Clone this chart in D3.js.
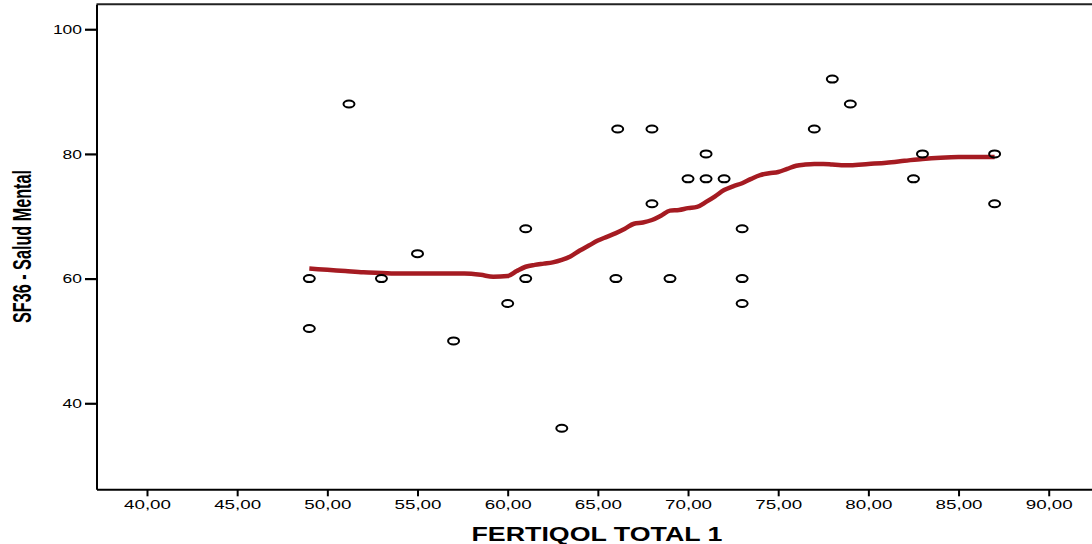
<!DOCTYPE html>
<html>
<head>
<meta charset="utf-8">
<script src="https://cdn.jsdelivr.net/npm/d3@7"></script>
<style>
  html, body { margin: 0; padding: 0; background: #fff; }
  svg { display: block; }
  text { font-family: "Liberation Sans", Arial, sans-serif; fill: #000; }
</style>
</head>
<body>
<svg id="chart" width="1092" height="544"></svg>
<script>
// FERTIQOL total score vs SF36 mental health score
const fertiqol = [49, 49, 51.2, 53, 55, 57, 60, 61, 61, 63, 66.1, 66, 68, 68, 69, 70, 71, 71, 72,
                  73, 73, 73, 77, 78, 79, 82.5, 83, 87, 87];
const saludMental = [60, 52, 88, 60, 64, 50, 56, 68, 60, 36, 84, 60, 84, 72, 60, 76, 80, 76, 76,
                     68, 60, 56, 84, 92, 88, 76, 80, 80, 72];

// Loess fit line
const fitX = [49, 50, 51, 52, 53, 54, 55, 56, 57, 57.6, 58.5, 59.2, 60, 60.5, 61, 61.5, 62, 62.5,
              63, 63.5, 64, 64.5, 65, 65.5, 66, 66.5, 67, 67.5, 68, 68.5, 69, 69.5, 70, 70.5, 71,
              71.5, 72, 72.5, 73, 73.5, 74, 74.5, 75, 75.5, 76, 76.5, 77, 77.5, 78, 78.5, 79, 80,
              81, 82, 83, 84, 85, 86, 87];
const fitY = [61.6, 61.4, 61.2, 61.0, 60.9, 60.8, 60.8, 60.8, 60.8, 60.8, 60.6, 60.3, 60.4, 61.2,
              61.9, 62.2, 62.4, 62.6, 63.0, 63.6, 64.5, 65.3, 66.1, 66.7, 67.3, 68.0, 68.8, 69.0,
              69.4, 70.1, 70.9, 71.0, 71.3, 71.5, 72.3, 73.2, 74.2, 74.8, 75.3, 76.0, 76.6, 76.9,
              77.1, 77.6, 78.1, 78.3, 78.4, 78.4, 78.3, 78.2, 78.2, 78.4, 78.6, 78.9, 79.2, 79.4,
              79.5, 79.5, 79.5];

const xTicks = [40, 45, 50, 55, 60, 65, 70, 75, 80, 85, 90];
const yTicks = [40, 60, 80, 100];
const xTitle = "FERTIQOL TOTAL 1";
const yTitle = "SF36 - Salud Mental";

const svg = d3.select("#chart");
const plotLeft = 96.5, plotRight = 1092, plotTop = 4.3, plotBottom = 489.3;

const x = d3.scaleLinear().domain([37.2, 92.4]).range([plotLeft, plotRight]);
const y = d3.scaleLinear().domain([26.2, 104]).range([plotBottom, plotTop]);

// frame: top border line
svg.append("line")
  .attr("x1", plotLeft).attr("x2", plotRight).attr("y1", plotTop).attr("y2", plotTop)
  .attr("stroke", "#222").attr("stroke-width", 2);

// x axis
const fmt = d => d.toFixed(2).replace(".", ",");
const xAxis = svg.append("g").attr("transform", `translate(0,${plotBottom})`)
  .call(d3.axisBottom(x).tickValues(xTicks).tickSize(7).tickSizeOuter(0).tickFormat(fmt));
xAxis.select(".domain").attr("stroke", "#000").attr("stroke-width", 2);
xAxis.selectAll(".tick line").attr("stroke", "#000").attr("stroke-width", 2);
xAxis.selectAll(".tick text")
  .attr("y", 20.2).attr("dy", 0)
  .style("font-size", "13px")
  .attr("textLength", 47).attr("lengthAdjust", "spacingAndGlyphs");

// y axis
const yAxis = svg.append("g").attr("transform", `translate(${plotLeft},0)`)
  .call(d3.axisLeft(y).tickValues(yTicks).tickSize(11.5).tickSizeOuter(0));
yAxis.select(".domain").attr("stroke", "#000").attr("stroke-width", 2);
yAxis.selectAll(".tick line").attr("stroke", "#000").attr("stroke-width", 2.2);
yAxis.selectAll(".tick text")
  .attr("x", -14.5).attr("dy", "0.36em")
  .style("font-size", "12px")
  .attr("textLength", d => String(d).length * 9.7).attr("lengthAdjust", "spacingAndGlyphs");

// axis titles
svg.append("text")
  .attr("x", 597).attr("y", 541)
  .attr("text-anchor", "middle")
  .style("font-size", "20px").style("font-weight", "bold")
  .attr("textLength", 251).attr("lengthAdjust", "spacingAndGlyphs")
  .text(xTitle);

svg.append("g")
  .attr("transform", "translate(31,246.5) scale(1.65,1) rotate(-90)")
  .append("text")
  .attr("text-anchor", "middle")
  .style("font-size", "16px").style("font-weight", "bold")
  .attr("textLength", 153).attr("lengthAdjust", "spacingAndGlyphs")
  .text(yTitle);

// loess fit
const fit = fitX.map((v, i) => [v, fitY[i]]);
svg.append("path")
  .datum(fit)
  .attr("fill", "none")
  .attr("stroke", "#a51b22")
  .attr("stroke-width", 4.5)
  .attr("stroke-linejoin", "round")
  .attr("d", d3.line().x(d => x(d[0])).y(d => y(d[1])).curve(d3.curveMonotoneX));

// observations
svg.append("g").selectAll("ellipse")
  .data(fertiqol.map((v, i) => [v, saludMental[i]]))
  .join("ellipse")
  .attr("cx", d => x(d[0]))
  .attr("cy", d => y(d[1]))
  .attr("rx", 5.5).attr("ry", 3.5)
  .attr("fill", "none")
  .attr("stroke", "#000")
  .attr("stroke-width", 2);
</script>
</body>
</html>
